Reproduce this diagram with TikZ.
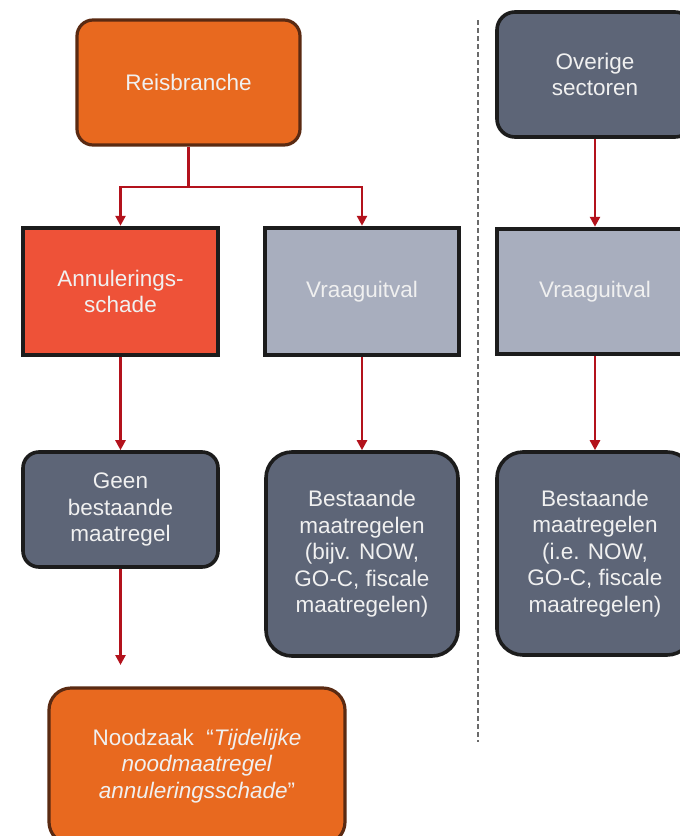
\documentclass[tikz,border=0pt]{standalone}
\usepackage{fontspec}
\setmainfont{Liberation Sans}
\usetikzlibrary{arrows.meta}
\definecolor{reisorange}{HTML}{E8691F}
\definecolor{reisborder}{HTML}{5A2A12}
\definecolor{annulred}{HTML}{EE5238}
\definecolor{vraaggray}{HTML}{A8AEBE}
\definecolor{darkslate}{HTML}{5D6577}
\definecolor{boxborder}{HTML}{1C1C1C}
\definecolor{connred}{HTML}{B3121C}
\definecolor{dashgray}{HTML}{6A6A6A}
\tikzset{
  boxtext/.style={text=white!94!black, align=center, inner sep=0pt,
    font=\fontsize{22.5}{26.5}\selectfont},
  orangebox/.style={boxtext, fill=reisorange, draw=reisborder, line width=3.2pt},
  redbox/.style={boxtext, fill=annulred, draw=boxborder, line width=4.5pt},
  graybox/.style={boxtext, fill=vraaggray, draw=boxborder, line width=4.5pt},
  darkbox/.style={boxtext, fill=darkslate, draw=boxborder, line width=3.6pt},
  conn/.style={draw=connred, line width=2.6pt},
  arrowconn/.style={conn, -{Triangle[length=10pt,width=10pt]}},
  divider/.style={draw=dashgray, line width=1.4pt, dash pattern=on 5pt off 3pt}
}
\begin{document}
\begin{tikzpicture}[x=1pt,y=-1pt]
\useasboundingbox (0,0) rectangle (680,836);
\clip (0,0) rectangle (680,836);
\fill[white] (0,0) rectangle (680,836);

% left column
\node[orangebox, rounded corners=16pt, minimum width=223pt, minimum height=125pt] (reis) at (188.5,82.5) {Reisbranche};
\node[redbox, minimum width=195pt, minimum height=127pt] (annul) at (120.5,291.5) {Annulerings-\\schade};
\node[graybox, minimum width=194pt, minimum height=127pt] (vraag1) at (362,291.5) {Vraaguitval};
\node[darkbox, rounded corners=16pt, minimum width=195pt, minimum height=115pt] (geen) at (120.5,509.5) {Geen\\bestaande\\maatregel};
\node[darkbox, rounded corners=26pt, minimum width=192pt, minimum height=204pt] (best1) at (362,554) {Bestaande\\maatregelen\\(bijv. NOW,\\GO-C, fiscale\\maatregelen)};
\node[orangebox, rounded corners=22pt, minimum width=296pt, minimum height=156pt] (nood) at (197,766) {Noodzaak\ \ “\textit{Tijdelijke}\\\textit{noodmaatregel}\\\textit{annuleringsschade}”};

% right column
\node[darkbox, rounded corners=18pt, minimum width=196pt, minimum height=125pt] (overige) at (595,74.5) {Overige\\sectoren};
\node[graybox, minimum width=196pt, minimum height=125pt] (vraag2) at (595,291.5) {Vraaguitval};
\node[darkbox, rounded corners=26pt, minimum width=196pt, minimum height=203pt] (best2) at (595,553.5) {Bestaande\\maatregelen\\(i.e. NOW,\\GO-C, fiscale\\maatregelen)};

% divider
\coordinate (divtop) at (478,20);
\coordinate (divbot) at (478,742);
\draw[divider] (divtop) -- (divbot);

% connectors
\coordinate (split) at (188.5,187);
\coordinate (geenend) at (120.5,665);
\draw[conn] (reis.south) -- (split);
\draw[arrowconn] (split) -| (annul.north);
\draw[arrowconn] (split) -| (vraag1.north);
\draw[arrowconn] (annul.south) -- (geen.north);
\draw[arrowconn] (vraag1.south) -- (best1.north);
\draw[arrowconn] (geen.south) -- (geenend);
\draw[arrowconn] (overige.south) -- (vraag2.north);
\draw[arrowconn] (vraag2.south) -- (best2.north);
\end{tikzpicture}
\end{document}
